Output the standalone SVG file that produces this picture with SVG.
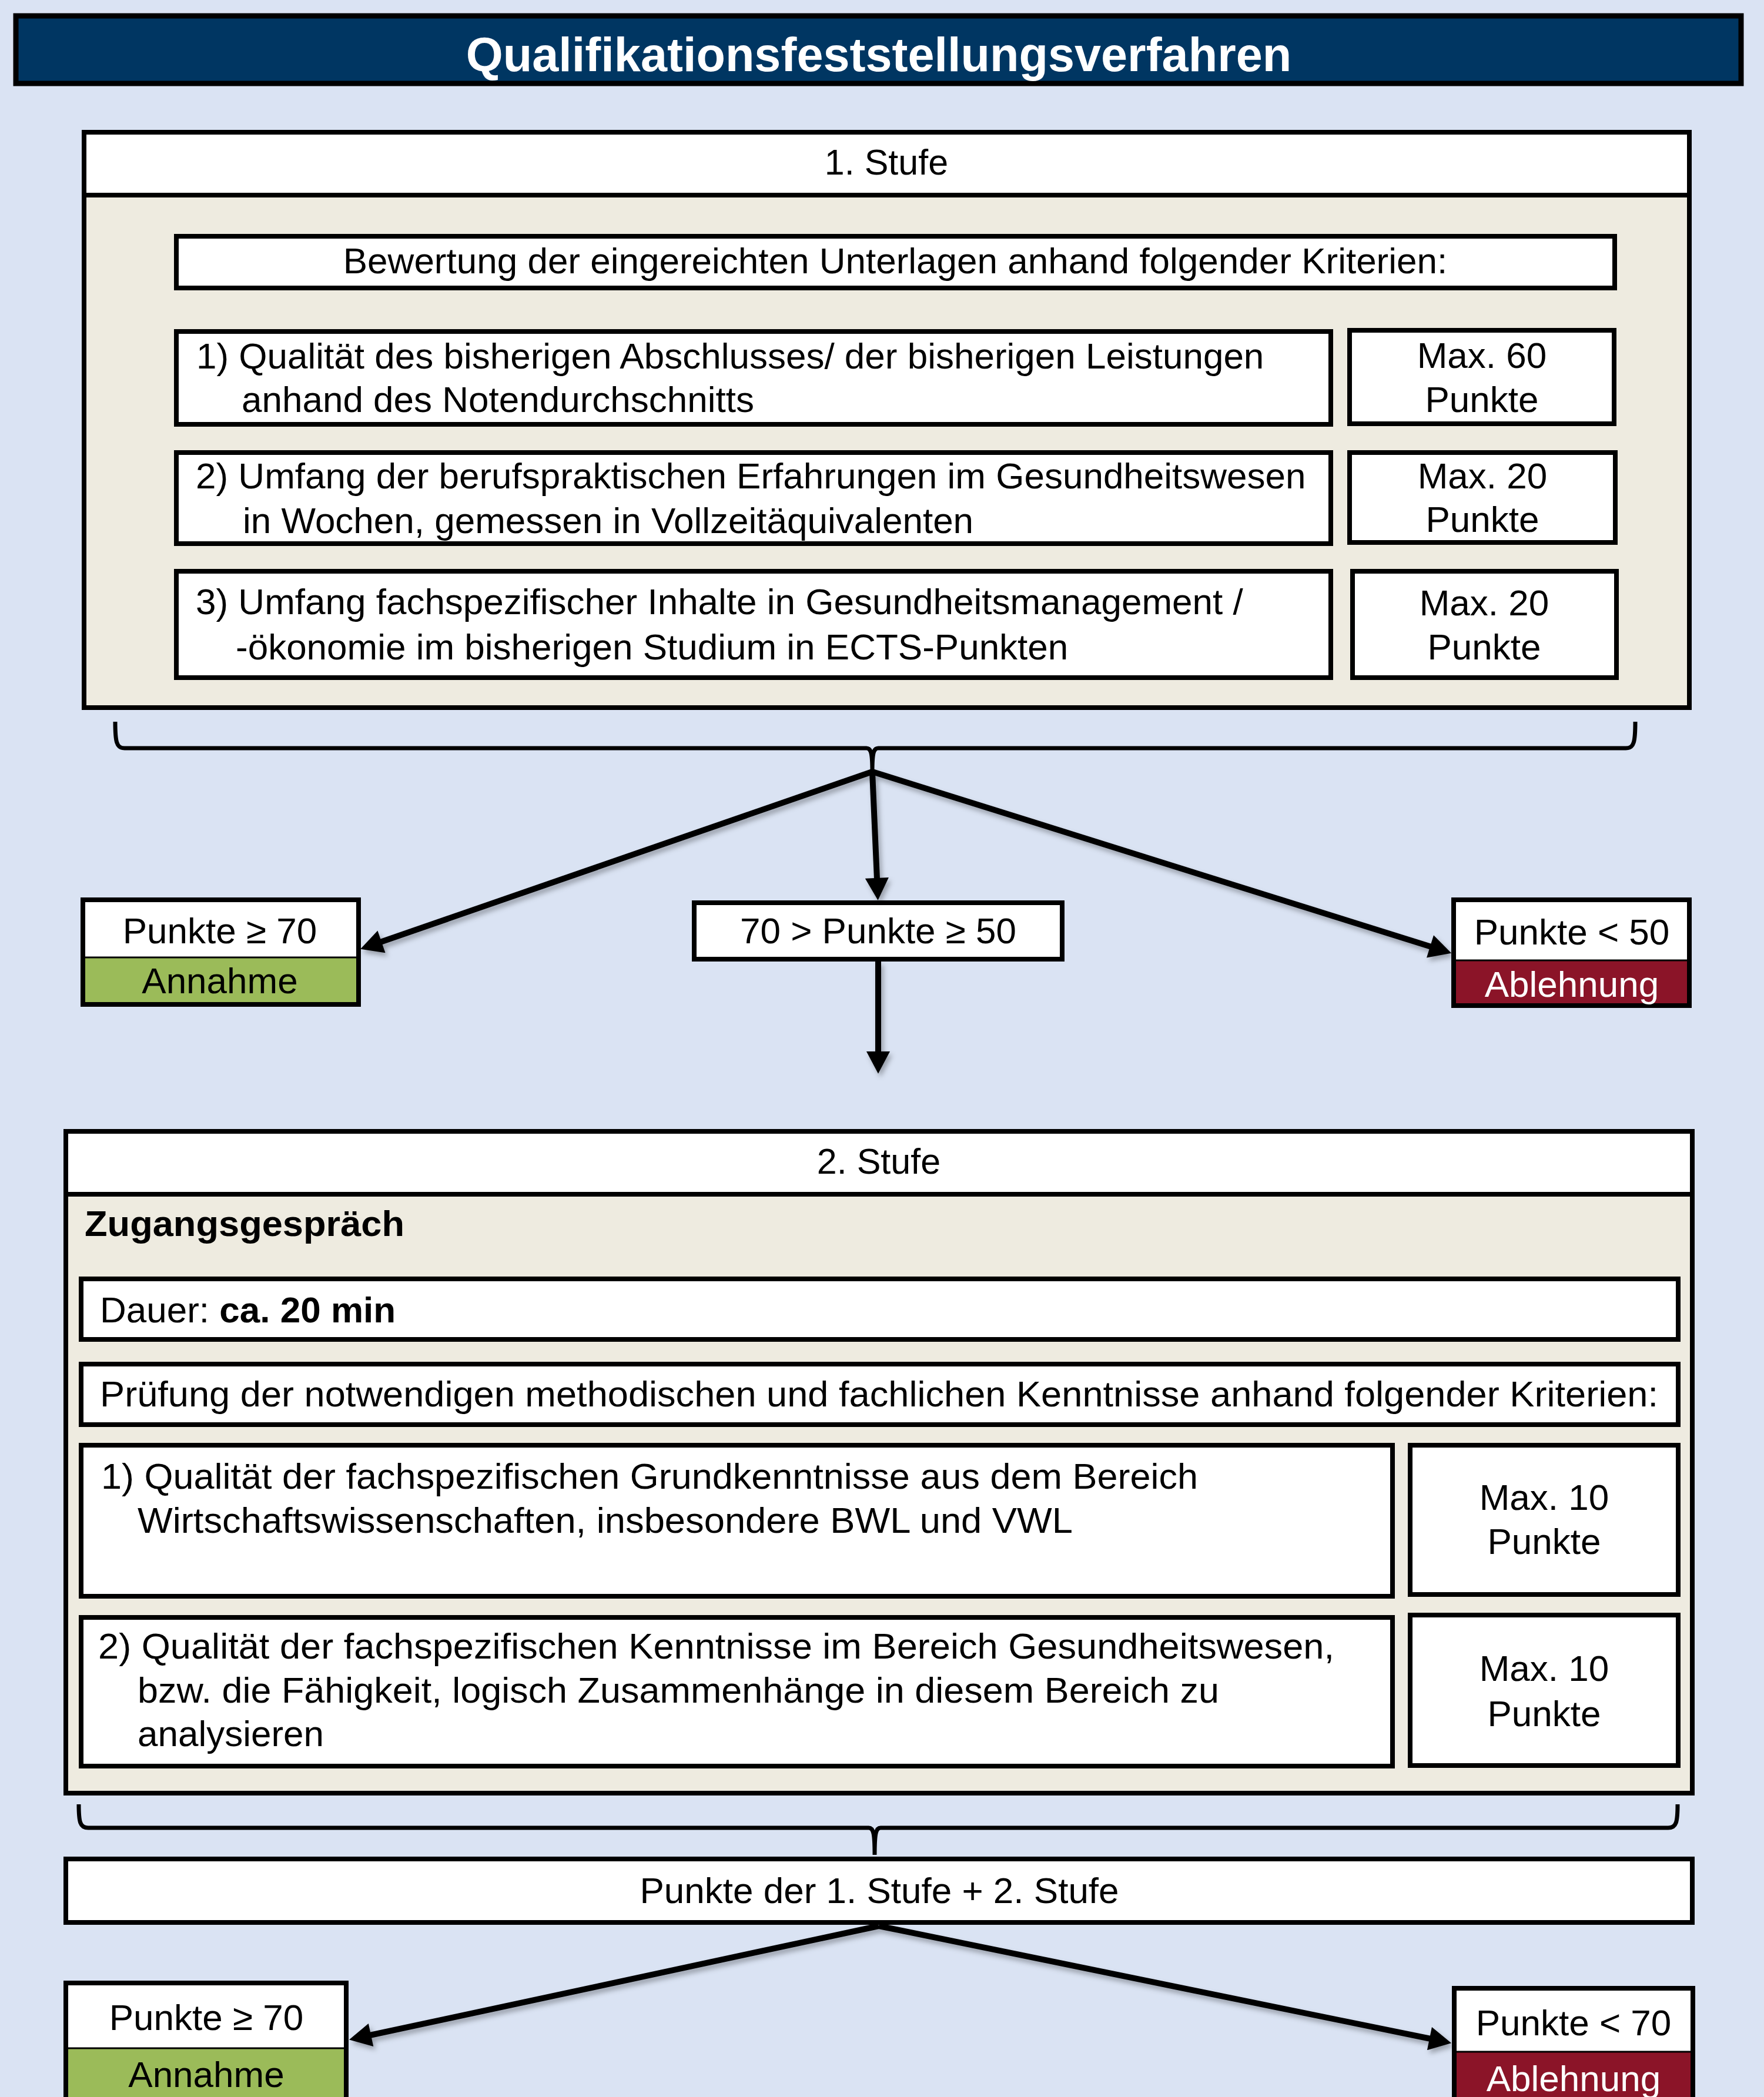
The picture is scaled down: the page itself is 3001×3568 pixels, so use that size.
<svg xmlns="http://www.w3.org/2000/svg" width="3001" height="3568" viewBox="0 0 3001 3568">
<defs>
<style>
.bx{fill:#fff;stroke:#000;stroke-width:8}
.pn{fill:#EEEBE0;stroke:#000;stroke-width:8}
.t{font-family:"Liberation Sans",Arial,sans-serif;font-size:62px;fill:#000}
.c{text-anchor:middle}
.b{font-weight:bold}
.w{fill:#fff}
.con{fill:none;stroke:#000;stroke-width:10}
.br{fill:none;stroke:#000;stroke-width:7}
.sep{stroke:#000;stroke-width:3}
</style>
<marker id="ah" markerUnits="userSpaceOnUse" markerWidth="40" markerHeight="40" viewBox="0 0 36 38" refX="2" refY="19" orient="auto">
<path d="M0,0 L36,19 L0,38 Z" fill="#000"/>
</marker>
<filter id="sh" x="-10%" y="-10%" width="120%" height="130%">
<feDropShadow dx="4" dy="6" stdDeviation="4" flood-color="#000" flood-opacity="0.3"/>
</filter>
</defs>
<rect x="0" y="0" width="3001" height="3568" fill="#DAE3F3"/>

<g id="title">
<rect x="27" y="27" width="2935" height="115" fill="#003662" stroke="#000" stroke-width="9"/>
<text class="t c b w" x="1495" y="121" style="font-size:81px">Qualifikationsfeststellungsverfahren</text>
</g>

<g id="stufe1">
<rect class="pn" x="143" y="225" width="2731" height="979"/>
<rect x="147" y="229" width="2723" height="103" fill="#fff"/>
<line x1="143" y1="332" x2="2874" y2="332" stroke="#000" stroke-width="8"/>
<text class="t c" x="1508" y="297" style="font-size:61px">1. Stufe</text>
</g>

<g id="s1-kriterien">
<rect class="bx" x="300" y="402" width="2447" height="88"/>
<text class="t c" x="1523" y="465">Bewertung der eingereichten Unterlagen anhand folgender Kriterien:</text>
</g>

<g id="s1-k1">
<rect class="bx" x="300" y="564" width="1964" height="158"/>
<text class="t" x="334" y="627">1) Qualität des bisherigen Abschlusses/ der bisherigen Leistungen</text>
<text class="t" x="411" y="701">anhand des Notendurchschnitts</text>
</g>
<g id="s1-k1-max">
<rect class="bx" x="2296" y="562" width="450" height="159"/>
<text class="t c" x="2521" y="626">Max. 60</text>
<text class="t c" x="2521" y="701">Punkte</text>
</g>

<g id="s1-k2">
<rect class="bx" x="300" y="770" width="1964" height="155"/>
<text class="t" x="333" y="831">2) Umfang der berufspraktischen Erfahrungen im Gesundheitswesen</text>
<text class="t" x="413" y="907">in Wochen, gemessen in Vollzeitäquivalenten</text>
</g>
<g id="s1-k2-max">
<rect class="bx" x="2296" y="770" width="452" height="153"/>
<text class="t c" x="2522" y="831">Max. 20</text>
<text class="t c" x="2522" y="905">Punkte</text>
</g>

<g id="s1-k3">
<rect class="bx" x="300" y="972" width="1964" height="181"/>
<text class="t" x="333" y="1045">3) Umfang fachspezifischer Inhalte in Gesundheitsmanagement /</text>
<text class="t" x="401" y="1122">-ökonomie im bisherigen Studium in ECTS-Punkten</text>
</g>
<g id="s1-k3-max">
<rect class="bx" x="2301" y="972" width="449" height="181"/>
<text class="t c" x="2525" y="1047">Max. 20</text>
<text class="t c" x="2525" y="1122">Punkte</text>
</g>

<g id="s1-annahme">
<rect x="141" y="1531" width="469" height="178" fill="#fff"/>
<rect x="141" y="1629" width="469" height="80" fill="#9BBB59"/>
<line class="sep" x1="141" y1="1629" x2="610" y2="1629"/>
<rect x="141" y="1531" width="469" height="178" fill="none" stroke="#000" stroke-width="8"/>
<text class="t c" x="374" y="1605">Punkte ≥ 70</text>
<text class="t c" x="374" y="1690">Annahme</text>
</g>

<g id="s1-mitte">
<rect class="bx" x="1181" y="1536" width="626" height="96"/>
<text class="t c" x="1494" y="1605">70 &gt; Punkte ≥ 50</text>
</g>

<g id="s1-ablehnung">
<rect x="2473" y="1531" width="401" height="180" fill="#fff"/>
<rect x="2473" y="1634" width="401" height="77" fill="#8B1428"/>
<line class="sep" x1="2473" y1="1634" x2="2874" y2="1634"/>
<rect x="2473" y="1531" width="401" height="180" fill="none" stroke="#000" stroke-width="8"/>
<text class="t c" x="2674" y="1607">Punkte &lt; 50</text>
<text class="t c w" x="2674" y="1696">Ablehnung</text>
</g>

<g id="stufe2">
<rect class="pn" x="112" y="1925" width="2767" height="1126"/>
<rect x="116" y="1929" width="2759" height="103" fill="#fff"/>
<line x1="112" y1="2032" x2="2879" y2="2032" stroke="#000" stroke-width="8"/>
<text class="t c" x="1495" y="1997" style="font-size:61px">2. Stufe</text>
<text class="t b" x="144" y="2103" textLength="544" lengthAdjust="spacingAndGlyphs">Zugangsgespräch</text>
</g>

<g id="s2-dauer">
<rect class="bx" x="138" y="2176" width="2717" height="103"/>
<text class="t" x="170" y="2250">Dauer: <tspan class="b">ca. 20 min</tspan></text>
</g>

<g id="s2-kriterien">
<rect class="bx" x="138" y="2321" width="2717" height="103"/>
<text class="t" x="170" y="2393" textLength="2651" lengthAdjust="spacingAndGlyphs">Prüfung der notwendigen methodischen und fachlichen Kenntnisse anhand folgender Kriterien:</text>
</g>

<g id="s2-k1">
<rect class="bx" x="138" y="2459" width="2231" height="257"/>
<text class="t" x="172" y="2533" textLength="1866" lengthAdjust="spacingAndGlyphs">1) Qualität der fachspezifischen Grundkenntnisse aus dem Bereich</text>
<text class="t" x="234" y="2608" textLength="1591" lengthAdjust="spacingAndGlyphs">Wirtschaftswissenschaften, insbesondere BWL und VWL</text>
</g>
<g id="s2-k1-max">
<rect class="bx" x="2399" y="2459" width="456" height="254"/>
<text class="t c" x="2627" y="2569">Max. 10</text>
<text class="t c" x="2627" y="2644">Punkte</text>
</g>

<g id="s2-k2">
<rect class="bx" x="138" y="2752" width="2231" height="253"/>
<text class="t" x="167" y="2822" textLength="2103" lengthAdjust="spacingAndGlyphs">2) Qualität der fachspezifischen Kenntnisse im Bereich Gesundheitswesen,</text>
<text class="t" x="234" y="2897" textLength="1840" lengthAdjust="spacingAndGlyphs">bzw. die Fähigkeit, logisch Zusammenhänge in diesem Bereich zu</text>
<text class="t" x="234" y="2971">analysieren</text>
</g>
<g id="s2-k2-max">
<rect class="bx" x="2399" y="2748" width="456" height="256"/>
<text class="t c" x="2627" y="2860">Max. 10</text>
<text class="t c" x="2627" y="2937">Punkte</text>
</g>

<g id="summe">
<rect class="bx" x="112" y="3163" width="2767" height="108"/>
<text class="t c" x="1496" y="3238">Punkte der 1. Stufe + 2. Stufe</text>
</g>

<g id="s2-annahme">
<rect x="112" y="3374" width="477" height="220" fill="#fff"/>
<rect x="112" y="3485" width="477" height="109" fill="#9BBB59"/>
<line class="sep" x1="112" y1="3485" x2="589" y2="3485"/>
<rect x="112" y="3374" width="477" height="220" fill="none" stroke="#000" stroke-width="8"/>
<text class="t c" x="351" y="3454">Punkte ≥ 70</text>
<text class="t c" x="351" y="3551">Annahme</text>
</g>

<g id="s2-ablehnung">
<rect x="2474" y="3383" width="406" height="210" fill="#fff"/>
<rect x="2474" y="3491" width="406" height="102" fill="#8B1428"/>
<line class="sep" x1="2474" y1="3491" x2="2880" y2="3491"/>
<rect x="2474" y="3383" width="406" height="210" fill="none" stroke="#000" stroke-width="8"/>
<text class="t c" x="2677" y="3463">Punkte &lt; 70</text>
<text class="t c w" x="2677" y="3558">Ablehnung</text>
</g>

<g id="connectors">
<path class="br" d="M196,1228 C196,1262 198,1273 212,1273 L1474,1273 C1482,1273 1484,1282 1484,1313 C1484,1282 1486,1273 1494,1273 L2766,1273 C2780,1273 2782,1262 2782,1228"/>
<path class="br" d="M134,3070 C134,3100 136,3110 150,3110 L1478,3110 C1486,3110 1488,3120 1488,3156 C1488,3120 1490,3110 1498,3110 L2838,3110 C2852,3110 2854,3100 2854,3070"/>
<g filter="url(#sh)">
<line class="con" x1="1484" y1="1313" x2="647" y2="1603" marker-end="url(#ah)"/>
<line class="con" x1="1484" y1="1313" x2="2435" y2="1611" marker-end="url(#ah)"/>
<line class="con" x1="1484" y1="1313" x2="1492" y2="1496" marker-end="url(#ah)"/>
<line class="con" x1="1494" y1="1636" x2="1494" y2="1791" marker-end="url(#ah)"/>
<line class="con" x1="1495" y1="3277" x2="629" y2="3463" marker-end="url(#ah)"/>
<line class="con" x1="1495" y1="3277" x2="2434" y2="3469" marker-end="url(#ah)"/>
</g>
</g>
</svg>
